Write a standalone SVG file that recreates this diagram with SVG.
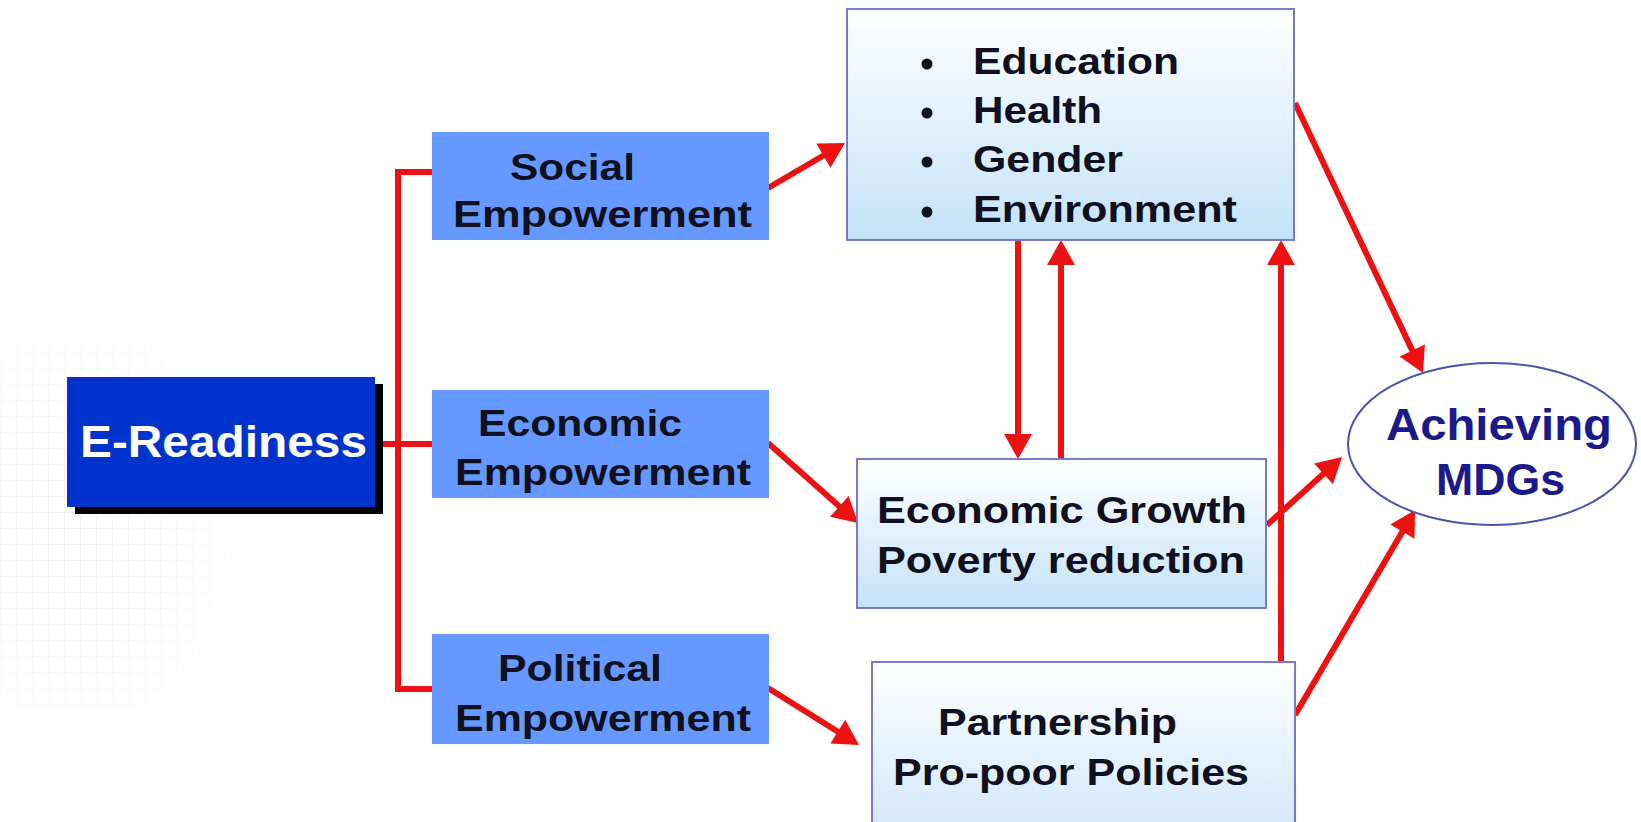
<svg xmlns="http://www.w3.org/2000/svg" width="1641" height="822" viewBox="0 0 1641 822">
  <defs>
    <linearGradient id="boxGrad" x1="0" y1="0" x2="0" y2="1">
      <stop offset="0" stop-color="#ffffff"/>
      <stop offset="1" stop-color="#c4e2f8"/>
    </linearGradient>
    <linearGradient id="boxGrad2" x1="0" y1="0" x2="0" y2="1">
      <stop offset="0" stop-color="#ffffff"/>
      <stop offset="1" stop-color="#cfe7fa"/>
    </linearGradient>
    <pattern id="grid" width="16" height="16" patternUnits="userSpaceOnUse">
      <path d="M16,0 H0 V16" fill="none" stroke="#e6e8ec" stroke-width="1.5"/>
    </pattern>
    <radialGradient id="fade" cx="0.3" cy="0.5" r="0.7">
      <stop offset="0" stop-color="#fff" stop-opacity="0.8"/>
      <stop offset="1" stop-color="#fff" stop-opacity="0"/>
    </radialGradient>
    <mask id="gridMask">
      <rect x="0" y="340" width="260" height="370" fill="url(#fade)"/>
    </mask>
    <marker id="arrow" markerUnits="userSpaceOnUse" markerWidth="28" markerHeight="28" refX="19" refY="14" orient="auto" viewBox="0 0 25 28">
      <path d="M0,0 L25,14 L0,28 z" fill="#ee1111"/>
    </marker>
  </defs>
  <style>
    .t { font-family: "Liberation Sans", Arial, sans-serif; font-weight: bold; }
    .dark { fill: #10101e; font-size: 37px; }
    .conn { stroke: #ee1111; stroke-width: 6; fill: none; }
    .arr { marker-end: url(#arrow); }
    .blue { fill: #6699ff; }
    .lbox { stroke: #7a7acc; stroke-width: 2; }
  </style>

  <rect x="0" y="0" width="1641" height="822" fill="#ffffff"/>
  <rect x="0" y="340" width="260" height="370" fill="url(#grid)" mask="url(#gridMask)"/>

  <g id="connectors">
    <path class="conn" d="M432,172 H398 V689 H432" stroke-width="5"/>
    <path class="conn" d="M382,444 H432" stroke-width="5"/>
    <line class="conn arr" x1="768" y1="188" x2="839.8" y2="146"/>
    <line class="conn arr" x1="768" y1="443" x2="853.5" y2="519"/>
    <line class="conn arr" x1="768" y1="688" x2="853.9" y2="741.8"/>
    <line class="conn arr" x1="1295" y1="103" x2="1420.4" y2="367.6"/>
    <line class="conn arr" x1="1018" y1="240" x2="1018" y2="453"/>
    <line class="conn arr" x1="1061" y1="459" x2="1061" y2="246"/>
    <line class="conn arr" x1="1281" y1="662" x2="1281" y2="246"/>
    <line class="conn arr" x1="1267" y1="525" x2="1337.6" y2="461"/>
    <line class="conn arr" x1="1295" y1="715" x2="1412" y2="515.2"/>
  </g>

  <g id="e-readiness">
    <rect x="75" y="384" width="308" height="130" fill="#000000"/>
    <rect x="67" y="377" width="308" height="130" fill="#0033cc"/>
    <text class="t" x="80" y="457" font-size="44" fill="#ffffff" textLength="287" lengthAdjust="spacingAndGlyphs">E-Readiness</text>
  </g>

  <g id="social">
    <rect class="blue" x="432" y="132" width="337" height="108"/>
    <text class="t dark" x="510" y="180" textLength="125" lengthAdjust="spacingAndGlyphs">Social</text>
    <text class="t dark" x="453" y="227" textLength="299" lengthAdjust="spacingAndGlyphs">Empowerment</text>
  </g>

  <g id="economic">
    <rect class="blue" x="432" y="390" width="337" height="108"/>
    <text class="t dark" x="478" y="436" textLength="204" lengthAdjust="spacingAndGlyphs">Economic</text>
    <text class="t dark" x="455" y="485" textLength="296" lengthAdjust="spacingAndGlyphs">Empowerment</text>
  </g>

  <g id="political">
    <rect class="blue" x="432" y="634" width="337" height="110"/>
    <text class="t dark" x="498" y="681" textLength="164" lengthAdjust="spacingAndGlyphs">Political</text>
    <text class="t dark" x="455" y="731" textLength="296" lengthAdjust="spacingAndGlyphs">Empowerment</text>
  </g>

  <g id="social-outcomes">
    <rect class="lbox" x="847" y="9" width="447" height="231" fill="url(#boxGrad)"/>
    <circle cx="927" cy="64" r="5.5" fill="#10101e"/>
    <circle cx="927" cy="113" r="5.5" fill="#10101e"/>
    <circle cx="927" cy="162" r="5.5" fill="#10101e"/>
    <circle cx="927" cy="212" r="5.5" fill="#10101e"/>
    <text class="t dark" x="973" y="74" font-size="38" textLength="206" lengthAdjust="spacingAndGlyphs">Education</text>
    <text class="t dark" x="973" y="123" font-size="38" textLength="129" lengthAdjust="spacingAndGlyphs">Health</text>
    <text class="t dark" x="973" y="172" font-size="38" textLength="150" lengthAdjust="spacingAndGlyphs">Gender</text>
    <text class="t dark" x="973" y="222" font-size="38" textLength="264" lengthAdjust="spacingAndGlyphs">Environment</text>
  </g>

  <g id="economic-growth">
    <rect class="lbox" x="857" y="459" width="409" height="149" fill="url(#boxGrad)"/>
    <text class="t dark" x="877" y="523" textLength="370" lengthAdjust="spacingAndGlyphs">Economic Growth</text>
    <text class="t dark" x="877" y="573" textLength="368" lengthAdjust="spacingAndGlyphs">Poverty reduction</text>
  </g>

  <g id="partnership">
    <rect class="lbox" x="872" y="662" width="423" height="175" fill="url(#boxGrad2)"/>
    <text class="t dark" x="938" y="735" textLength="239" lengthAdjust="spacingAndGlyphs">Partnership</text>
    <text class="t dark" x="893" y="785" textLength="356" lengthAdjust="spacingAndGlyphs">Pro-poor Policies</text>
  </g>

  <g id="achieving-mdgs">
    <ellipse cx="1492" cy="444" rx="144" ry="81" fill="#ffffff" stroke="#4a55aa" stroke-width="2"/>
    <text class="t" x="1386" y="440" font-size="44" fill="#1a1a8c" textLength="226" lengthAdjust="spacingAndGlyphs">Achieving</text>
    <text class="t" x="1436" y="495" font-size="44" fill="#1a1a8c" textLength="129" lengthAdjust="spacingAndGlyphs">MDGs</text>
  </g>
</svg>
